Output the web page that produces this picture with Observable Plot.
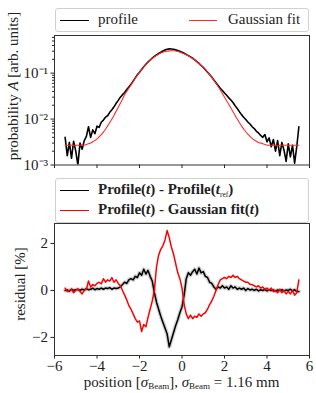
<!DOCTYPE html>
<html><head><meta charset="utf-8">
<script src="https://cdn.jsdelivr.net/npm/d3@7"></script>
<script src="https://cdn.jsdelivr.net/npm/@observablehq/plot@0.6"></script>
<style>
body{margin:0;background:#fff;}
#wrap{position:relative;width:316px;height:393px;font-family:"Liberation Serif",serif;color:#222;overflow:hidden;}
.abs{position:absolute;}
.leg{position:absolute;border:1px solid #d0d0d0;border-radius:3px;background:#fff;box-sizing:border-box;}
.sw{position:absolute;height:0;border-top:1.6px solid #000;width:29px;}
.lt{position:absolute;font-size:15px;line-height:15px;white-space:nowrap;}
.b{font-weight:bold;font-size:15px;}
.sb{display:inline-block;font-size:9px;line-height:8px;vertical-align:-3px;}
.xl .sb{vertical-align:-2px;}
.b .sb{font-size:7.5px;font-weight:normal;}
.ylab{position:absolute;transform:translate(-50%,-50%) rotate(-90deg);white-space:nowrap;font-size:15px;}
</style></head>
<body><div id="wrap"></div>
<script>
const xStart = -5.5, xStep = 0.1;
const profile = [0.0040,0.0016,0.0031,0.0014,0.0033,0.0020,0.0010,0.0030,0.0022,0.0034,
0.0042,0.0068,0.0040,0.0058,0.0048,0.0070,0.0066,0.0085,0.0095,0.0110,
0.0118,0.0140,0.0160,0.0185,0.0220,0.0255,0.030,0.034,0.038,0.044,
0.050,0.057,0.067,0.079,0.092,0.105,0.120,0.138,0.156,0.175,
0.193,0.212,0.231,0.250,0.268,0.285,0.305,0.320,0.331,0.337,
0.336,0.330,0.321,0.310,0.298,0.285,0.271,0.256,0.241,0.226,
0.211,0.195,0.179,0.163,0.147,0.133,0.119,0.105,0.093,0.082,
0.071,0.062,0.054,0.047,0.042,0.037,0.033,0.029,0.026,0.023,
0.0195,0.0170,0.0145,0.0125,0.0110,0.0098,0.0086,0.0078,0.0068,0.0062,
0.0054,0.0050,0.0044,0.0040,0.0046,0.0032,0.0039,0.0025,0.0036,0.0020,
0.0034,0.0016,0.0031,0.0021,0.0012,0.0029,0.0015,0.0027,0.0011,0.0025,0.0068];
const gaussFit = [0.0027,0.0027,0.0027,0.0027,0.0027,0.0027,0.0027,0.0027,0.0027,0.0027,
0.0028,0.0029,0.0030,0.0032,0.0034,0.0037,0.0041,0.0046,0.0052,0.0060,
0.0071,0.0084,0.0100,0.0120,0.0148,0.0180,0.0220,0.0270,0.034,0.040,
0.047,0.055,0.065,0.077,0.090,0.104,0.119,0.136,0.154,0.172,
0.190,0.208,0.226,0.243,0.259,0.273,0.285,0.295,0.302,0.306,
0.308,0.307,0.303,0.296,0.287,0.276,0.264,0.251,0.237,0.223,
0.208,0.193,0.178,0.163,0.148,0.134,0.120,0.106,0.093,0.081,
0.070,0.060,0.051,0.043,0.036,0.030,0.025,0.0210,0.0175,0.0145,
0.0120,0.0100,0.0084,0.0071,0.0061,0.0053,0.0047,0.0042,0.0038,0.0035,
0.0033,0.0031,0.0030,0.0029,0.0028,0.0027,0.0027,0.0027,0.0027,0.0027,
0.0027,0.0027,0.0027,0.0027,0.0027,0.0027,0.0027,0.0027,0.0027,0.0027,0.0027];
const resRef = [0.00,0.02,-0.03,0.05,0.00,0.03,0.05,0.00,0.05,0.02,
0.08,0.03,0.05,0.10,0.03,0.08,0.05,0.10,0.05,0.10,
0.08,0.12,0.05,0.10,0.08,0.10,0.15,0.25,0.35,0.30,
0.45,0.50,0.45,0.60,0.55,0.75,0.65,0.90,0.70,0.85,
0.60,0.40,-0.10,-0.50,-0.80,-1.10,-1.35,-1.60,-1.85,-2.40,
-2.10,-1.80,-1.50,-1.25,-0.95,-0.70,-0.20,0.50,0.75,0.65,
0.80,0.90,0.70,0.95,0.75,0.80,0.60,0.55,0.35,0.30,
0.15,0.05,0.15,0.10,0.20,0.10,0.15,0.05,0.20,0.10,
0.15,0.05,0.10,0.05,0.10,0.00,0.08,0.02,0.05,0.00,
0.05,-0.02,0.03,0.00,0.04,-0.02,0.03,0.00,0.02,-0.03,
0.02,0.00,0.03,-0.02,0.02,0.00,0.05,-0.02,0.03,-0.05,-0.05];
const resFit = [0.10,-0.05,0.00,0.05,-0.10,0.00,0.05,-0.05,-0.15,0.00,
0.05,0.40,0.15,0.25,0.20,0.30,0.35,0.28,0.50,0.35,
0.45,0.40,0.55,0.35,0.45,0.30,0.20,0.00,-0.20,-0.40,
-0.65,-0.80,-1.00,-1.20,-1.35,-1.30,-1.75,-1.45,-1.55,-1.15,
-0.80,-0.45,0.00,1.00,1.50,1.75,1.90,2.15,2.55,2.25,
1.85,1.55,1.15,0.75,0.50,0.10,-0.60,-1.00,-1.20,-1.05,
-1.20,-1.10,-1.15,-1.00,-1.10,-1.00,-0.95,-0.80,-0.60,-0.45,
-0.25,0.00,0.25,0.45,0.50,0.55,0.50,0.60,0.55,0.65,
0.55,0.60,0.50,0.45,0.40,0.35,0.35,0.25,0.25,0.20,
0.15,0.20,0.10,0.15,0.05,0.10,0.00,0.10,-0.05,0.00,
-0.10,0.05,-0.10,0.00,-0.15,-0.05,-0.15,0.00,-0.20,-0.10,0.45];
const xTicks = [-6,-4,-2,0,2,4,6];
const logTicks = [1e-3,1e-2,1e-1];
const logLabels = ["10\u207B\u00B3","10\u207B\u00B2","10\u207B\u00B9"];
const resTicks = [-2,0,2];

const xs = profile.map((_, i) => +(xStart + i * xStep).toFixed(2));
const topRows = xs.map((x, i) => ({x, p: profile[i], f: gaussFit[i]}));
const botRows = xs.map((x, i) => ({x, a: resRef[i], b: resFit[i]}));
const minor = [];
for (const d of [1e-3,1e-2,1e-1]) for (let k = 2; k <= 9; k++) if (d*k < 0.66) minor.push(d*k);
const minus = d => String(d).replace("-", "\u2212");

const style = {fontFamily:"Liberation Serif, serif", fontSize:"15px", color:"#222", background:"transparent", overflow:"visible"};
const p1 = Plot.plot({
  width:316, height:175, marginLeft:54, marginRight:7, marginTop:35, marginBottom:10.5,
  style,
  x:{domain:[-6,6], label:null},
  y:{type:"log", domain:[1e-3,0.66], label:null},
  marks:[
    Plot.line(topRows, {x:"x", y:"p", stroke:"#000", strokeWidth:1.6, clip:true}),
    Plot.line(topRows, {x:"x", y:"f", stroke:"#ff2a2a", strokeWidth:1.1, curve:"catmull-rom", clip:true}),
    Plot.axisX({ticks:xTicks, tickSize:3.5, tickFormat:()=>"", label:null}),
    Plot.axisY({ticks:minor, tickSize:2, tickFormat:()=>"", label:null}),
    Plot.axisY({ticks:logTicks, tickSize:3.5, tickPadding:3, tickFormat:(d)=>logLabels[logTicks.indexOf(d)], label:null, fontSize:15}),
    Plot.frame({stroke:"#333", strokeWidth:1})
  ]
});
const p2 = Plot.plot({
  width:316, height:213, marginLeft:54, marginRight:7, marginTop:43, marginBottom:38,
  style,
  x:{domain:[-6,6], label:null},
  y:{domain:[-2.77,2.85], label:null},
  marks:[
    Plot.line(botRows, {x:"x", y:"a", stroke:"#888", strokeOpacity:0.4, strokeWidth:4}),
    Plot.line(botRows, {x:"x", y:"a", stroke:"#000", strokeWidth:1.5}),
    Plot.line(botRows, {x:"x", y:"b", stroke:"#ff0000", strokeWidth:1.5}),
    Plot.axisX({ticks:xTicks, tickSize:3.5, tickPadding:1.5, tickFormat:minus, label:null, fontSize:15}),
    Plot.axisY({ticks:resTicks, tickSize:3.5, tickPadding:3, tickFormat:minus, label:null, fontSize:15}),
    Plot.frame({stroke:"#333", strokeWidth:1})
  ]
});
const wrap = document.getElementById("wrap");
p1.style.position = "absolute"; p1.style.left = "0px"; p1.style.top = "0px";
p2.style.position = "absolute"; p2.style.left = "0px"; p2.style.top = "180px";
wrap.appendChild(p1); wrap.appendChild(p2);
wrap.insertAdjacentHTML("beforeend", `
<div class="leg" style="left:55px;top:8px;width:254px;height:24px;">
  <div class="sw" style="left:4px;top:11px;"></div>
  <div class="lt" style="left:42px;top:3px;">profile</div>
  <div class="sw" style="left:133px;top:11px;border-color:#ff2a2a;width:28px;"></div>
  <div class="lt" style="left:172px;top:3px;">Gaussian fit</div>
</div>
<div class="leg" style="left:55px;top:178px;width:254px;height:45px;">
  <div class="sw" style="left:4px;top:11px;"></div>
  <div class="lt b" style="left:42px;top:3px;">Profile(<i>t</i>) - Profile(<i>t</i><span class="sb">ref</span>)</div>
  <div class="sw" style="left:4px;top:31px;border-color:#ff0000;"></div>
  <div class="lt b" style="left:42px;top:23px;">Profile(<i>t</i>) - Gaussian fit(<i>t</i>)</div>
</div>
<div class="ylab" style="left:13px;top:86px;">probability <i>A</i> [arb. units]</div>
<div class="ylab" style="left:20px;top:284px;">residual [%]</div>
<div class="abs xl" style="left:0;width:363px;top:375px;line-height:14px;text-align:center;font-size:15px;white-space:nowrap;">position [<i>σ</i><span class="sb">Beam</span>], <i>σ</i><span class="sb">Beam</span> = 1.16 mm</div>
`);
</script></body></html>
